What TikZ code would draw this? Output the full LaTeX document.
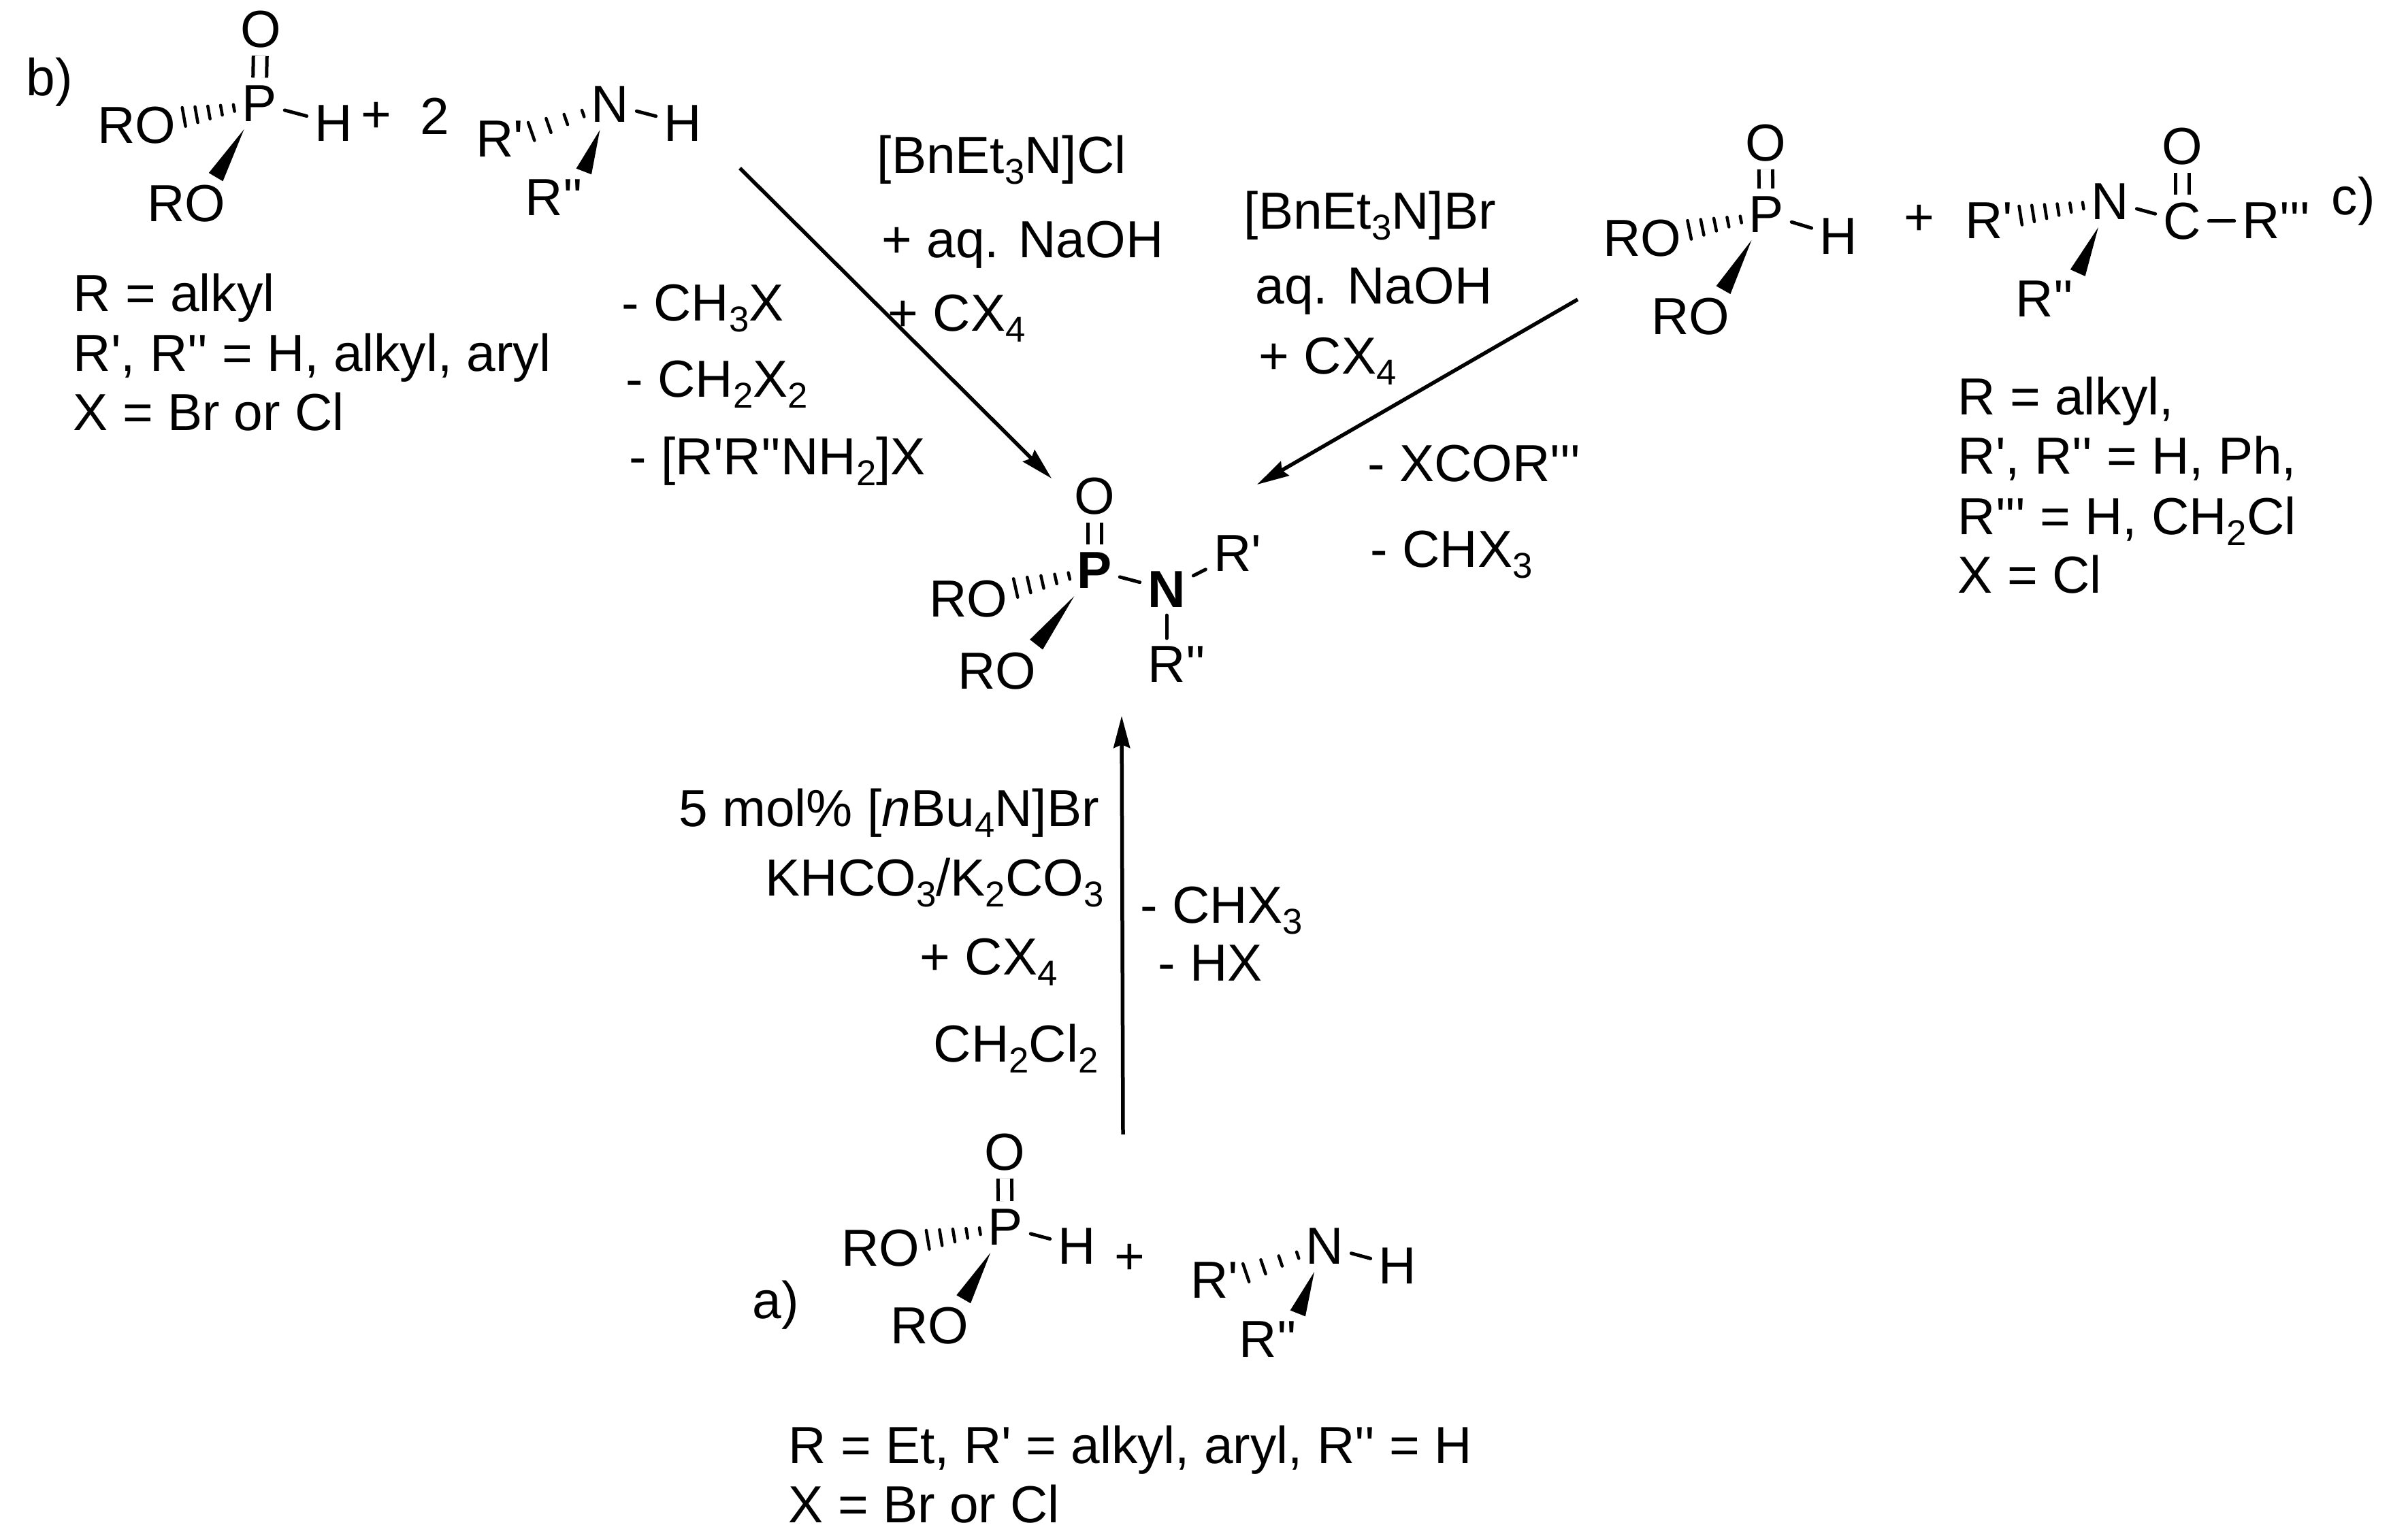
\documentclass[tikz,border=0pt]{standalone}
\usepackage{fontspec}
\usetikzlibrary{arrows.meta,calc}
\newfontfamily\chemfont{Liberation Sans}
\newcommand{\sbs}[1]{\raisebox{-0.16cm}{\fontsize{15}{15}\selectfont #1}}
\newcommand{\wedgebond}[2]{%
  \path (#1) -- (#2) coordinate[pos=0] (ws) coordinate[pos=1] (we);
  \fill (ws) -- ($(we)!0.12cm!90:(ws)$) -- ($(we)!0.12cm!-90:(ws)$) -- cycle;}
\newcommand{\hashbond}[3]{%
  \path (#1) -- (#2) coordinate[pos=0] (hs) coordinate[pos=1] (he);
  \coordinate (hsa) at ($(hs)!0.05cm!-90:(he)$);
  \coordinate (hsb) at ($(hs)!0.05cm!90:(he)$);
  \coordinate (hea) at ($(he)!0.14cm!90:(hs)$);
  \coordinate (heb) at ($(he)!0.14cm!-90:(hs)$);
  \foreach \t in {0,...,#3}
    \draw[hashline] ($(hsa)!\t/#3!(hea)$) -- ($(hsb)!\t/#3!(heb)$);}
\tikzset{
  every node/.style={font=\chemfont\fontsize{21.8}{25}\selectfont},
  atom/.style={inner sep=0.11cm},
  txt/.style={inner sep=0pt,anchor=base west},
  bond/.style={line width=0.05cm,line cap=round},
  hashline/.style={line width=0.045cm,line cap=round},
  dblbond/.style={line width=0.05cm,double=white,double distance=0.15cm},
  rxn/.style={line width=0.055cm,-{Stealth[length=0.47cm,width=0.24cm,inset=0.05cm]}}
}
\begin{document}
\begin{tikzpicture}[y=-1cm]
  \useasboundingbox (0,0) rectangle (35.13,22.62);
  % b)
  \node[txt] at (0.38,1.40) (lb) {b)};
  \node[atom] at (3.83,0.43) (Ob) {O};
  \node[atom] at (3.81,1.52) (Pb) {P};
  \node[atom] at (4.90,1.81) (Hb) {H};
  \node[atom] at (2.01,1.84) (ROb) {RO};
  \node[atom] at (2.74,2.99) (ROlb) {RO};
  \node[atom] at (5.53,1.72) (plusb) {+};
  \node[atom] at (6.39,1.71) (two) {2};
  \node[atom] at (7.34,2.04) (R1b) {R'};
  \node[atom] at (8.96,1.53) (Nb) {N};
  \node[atom] at (10.03,1.81) (HNb) {H};
  \node[atom] at (8.14,2.90) (R2b) {R''};
  \draw[dblbond] (Pb) -- (Ob);
  \draw[bond] (Pb) -- (Hb);
  \draw[bond] (Nb) -- (HNb);
  \hashbond{Pb}{ROb.10}{4}
  \wedgebond{Pb}{ROlb.42}
  \hashbond{Nb}{R1b.13}{3}
  \wedgebond{Nb}{R2b.41}
  \node[txt] at (1.07,4.57) (tb1) {R = alkyl};
  \node[txt] at (1.07,5.45) (tb2) {R', R'' = H, alkyl, aryl};
  \node[txt] at (1.07,6.32) (tb3) {X = Br or Cl};
  \node[txt] at (9.13,4.71) (lossb1) {- CH\sbs{3}X};
  \node[txt] at (9.19,5.83) (lossb2) {- CH\sbs{2}X\sbs{2}};
  \node[txt] at (9.24,6.97) (lossb3) {- [R'R''NH\sbs{2}]X};
  \node[txt] at (12.88,2.54) (condb1) {[BnEt\sbs{3}N]Cl};
  \node[txt] at (12.95,3.78) (condb2) {+ aq. NaOH};
  \node[txt] at (13.04,4.86) (condb3) {+ CX\sbs{4}};
  % product
  \node[atom] at (16.08,7.29) (O) {O};
  \node[atom] at (16.08,8.38) (P) {\textbf{P}};
  \node[atom] at (17.14,8.66) (N) {\textbf{N}};
  \node[atom] at (18.18,8.13) (R1) {R'};
  \node[atom] at (17.29,9.76) (R2) {R''};
  \node[atom] at (14.23,8.80) (RO) {RO};
  \node[atom] at (14.65,9.86) (ROl) {RO};
  \draw[dblbond] (P) -- (O);
  \draw[bond] (P) -- (N);
  \draw[bond] (N) -- (R1);
  \draw[bond] (N.south) -- (N.south |- R2.north);
  \hashbond{P}{RO.13}{4}
  \wedgebond{P}{ROl.34}
  % c)
  \node[atom] at (25.94,2.10) (Oc) {O};
  \node[atom] at (25.95,3.15) (Pc) {P};
  \node[atom] at (27.01,3.47) (Hc) {H};
  \node[atom] at (24.13,3.50) (ROc) {RO};
  \node[atom] at (24.84,4.65) (ROlc) {RO};
  \node[atom] at (28.20,3.23) (plusc) {+};
  \node[atom] at (29.22,3.24) (R1c) {R'};
  \node[atom] at (31.00,2.96) (Nc) {N};
  \node[atom] at (32.06,3.25) (Cc) {C};
  \node[atom] at (32.06,2.15) (OCc) {O};
  \node[atom] at (33.44,3.24) (R3c) {R'''};
  \node[atom] at (30.04,4.39) (R2c) {R''};
  \node[txt] at (34.25,3.15) (lc) {c)};
  \draw[dblbond] (Pc) -- (Oc);
  \draw[bond] (Pc) -- (Hc);
  \draw[bond] (Nc) -- (Cc);
  \draw[dblbond] (Cc) -- (OCc);
  \draw[bond] (Cc) -- (R3c);
  \hashbond{Pc}{ROc.10}{4}
  \wedgebond{Pc}{ROlc.39}
  \hashbond{Nc}{R1c.9}{5}
  \wedgebond{Nc}{R2c.38}
  \node[txt] at (28.76,6.09) (tc1) {R = alkyl,};
  \node[txt] at (28.76,6.96) (tc2) {R', R'' = H, Ph,};
  \node[txt] at (28.76,7.85) (tc3) {R''' = H, CH\sbs{2}Cl};
  \node[txt] at (28.76,8.71) (tc4) {X = Cl};
  \node[txt] at (18.27,3.36) (condc1) {[BnEt\sbs{3}N]Br};
  \node[txt] at (18.44,4.46) (condc2) {aq. NaOH};
  \node[txt] at (18.49,5.49) (condc3) {+ CX\sbs{4}};
  \node[txt] at (20.09,7.07) (lossc1) {- XCOR'''};
  \node[txt] at (20.13,8.33) (lossc2) {- CHX\sbs{3}};
  % a)
  \node[txt] at (11.05,19.37) (la) {a)};
  \node[atom] at (14.76,16.93) (Oa) {O};
  \node[atom] at (14.77,18.03) (Pa) {P};
  \node[atom] at (15.82,18.31) (Ha) {H};
  \node[atom] at (12.94,18.34) (ROa) {RO};
  \node[atom] at (13.66,19.48) (ROla) {RO};
  \node[atom] at (16.60,18.50) (plusa) {+};
  \node[atom] at (17.84,18.81) (R1a) {R'};
  \node[atom] at (19.46,18.31) (Na) {N};
  \node[atom] at (20.53,18.60) (HNa) {H};
  \node[atom] at (18.63,19.68) (R2a) {R''};
  \draw[dblbond] (Pa) -- (Oa);
  \draw[bond] (Pa) -- (Ha);
  \draw[bond] (Na) -- (HNa);
  \hashbond{Pa}{ROa.10}{4}
  \wedgebond{Pa}{ROla.38}
  \hashbond{Na}{R1a.13}{3}
  \wedgebond{Na}{R2a.41}
  \node[txt] at (11.58,21.50) (ta1) {R = Et, R' = alkyl, aryl, R'' = H};
  \node[txt] at (11.58,22.37) (ta2) {X = Br or Cl};
  \node[txt] at (9.97,12.14) (conda1) {5 mol\% [\textit{n}Bu\sbs{4}N]Br};
  \node[txt] at (11.24,13.16) (conda2) {KHCO\sbs{3}/K\sbs{2}CO\sbs{3}};
  \node[txt] at (13.51,14.32) (conda3) {+ CX\sbs{4}};
  \node[txt] at (13.71,15.60) (conda4) {CH\sbs{2}Cl\sbs{2}};
  \node[txt] at (16.75,13.56) (lossa1) {- CHX\sbs{3}};
  \node[txt] at (17.01,14.41) (lossa2) {- HX};
  % arrows
  \coordinate (fromb) at (10.87,2.47);
  \coordinate (tob) at (15.45,7.03);
  \coordinate (fromc) at (23.18,4.40);
  \coordinate (toc) at (18.47,7.12);
  \coordinate (froma) at (16.50,16.67);
  \coordinate (toa) at (16.48,10.52);
  \draw[rxn] (fromb) -- (tob);
  \draw[rxn] (fromc) -- (toc);
  \draw[rxn] (froma) -- (toa);
\end{tikzpicture}
\end{document}
